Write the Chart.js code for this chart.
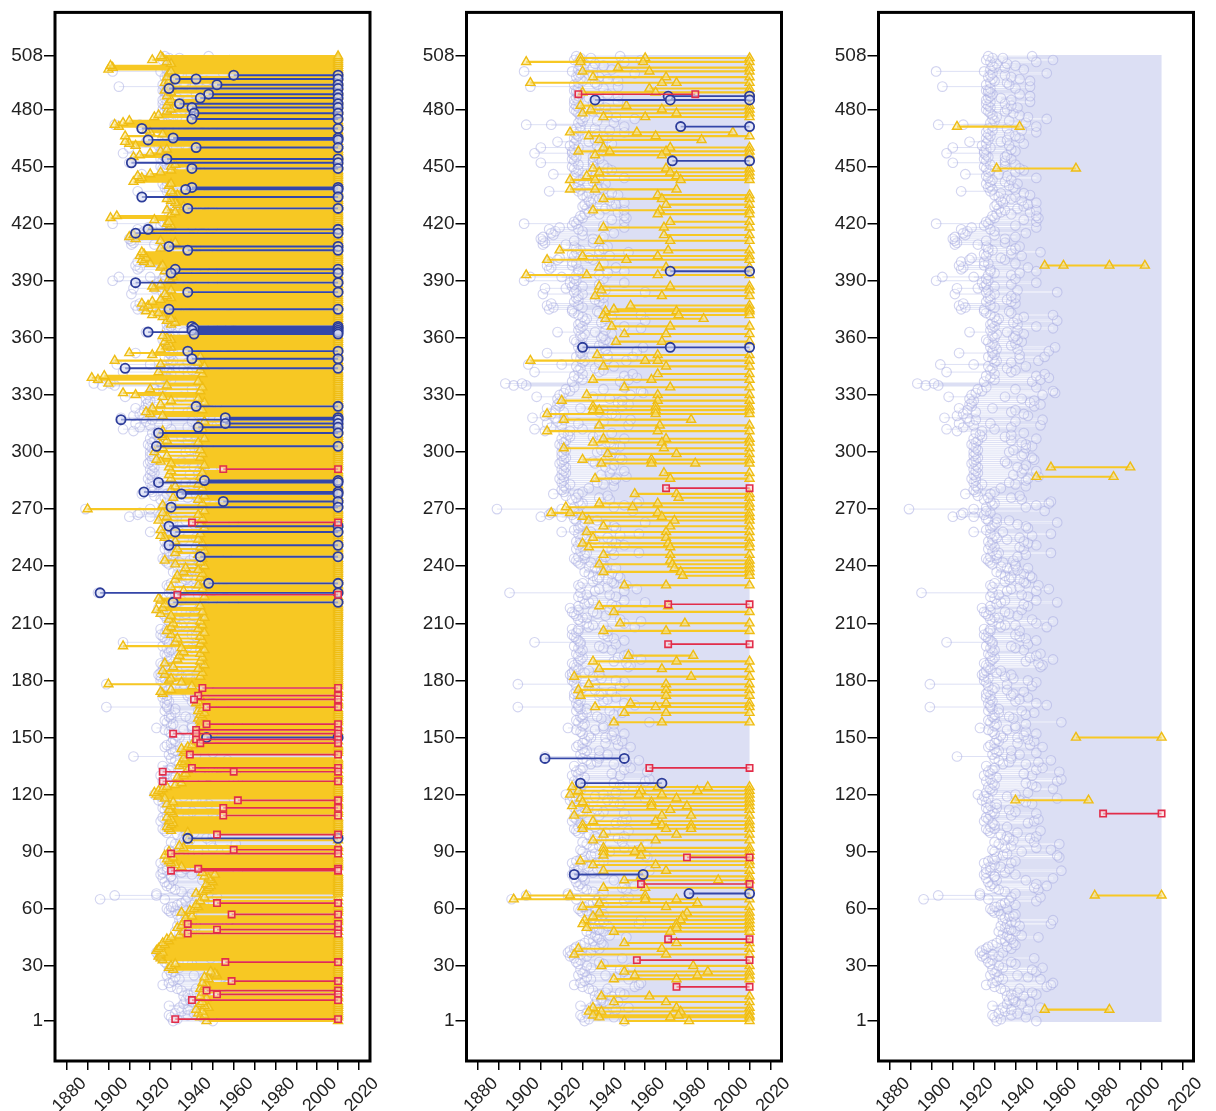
<!DOCTYPE html>
<html><head><meta charset="utf-8">
<script src="https://cdn.jsdelivr.net/npm/chart.js@4.4.1/dist/chart.umd.min.js"></script>
<style>
html,body{margin:0;padding:0;background:#fff;}
#wrap{position:relative;width:1216px;height:1111px;overflow:hidden;background:#fff;}
canvas{position:absolute;top:0;}
</style></head><body>
<div id="wrap">
<canvas id="c1" width="405" height="1111" style="left:0px"></canvas>
<canvas id="c2" width="405" height="1111" style="left:410px"></canvas>
<canvas id="c3" width="396" height="1111" style="left:820px"></canvas>
</div>
<script>
// ---------- tick labels ----------
const xTicks = [1880,1890,1900,1910,1920,1930,1940,1950,1960,1970,1980,1990,2000,2010,2020];
const yTicks = [1,30,60,90,120,150,180,210,240,270,300,330,360,390,420,450,480,508];
const lastYear = 2010;

// ---------- background (all panels): first observation year per row 1..508 ----------
const bgStart = [
1931,1933,1930,1929,1932,1935,1938,1934,1929,1936,
1940,1937,1939,1936,1938,1941,1935,1933,1930,1926,
1929,1931,1934,1932,1928,1930,1931,1929,1934,1932,
1928,1927,1929,1926,1924,1925,1923,1924,1926,1927,
1929,1931,1935,1933,1937,1936,1934,1932,1937,1935,
1933,1936,1938,1934,1935,1937,1933,1930,1929,1928,
1931,1933,1935,1937,1896,1938,1903,1923,1935,1932,
1930,1928,1929,1927,1931,1926,1930,1925,1926,1928,
1926,1928,1930,1925,1927,1929,1931,1934,1936,1930,
1929,1935,1938,1932,1930,1935,1937,1936,1933,1928,
1927,1926,1928,1930,1929,1925,1927,1926,1928,1930,
1929,1927,1926,1928,1931,1926,1924,1927,1925,1922,
1926,1929,1928,1927,1930,1929,1926,1928,1931,1925,
1928,1927,1929,1930,1926,1934,1937,1932,1930,1912,
1929,1931,1932,1930,1927,1928,1930,1932,1931,1934,
1933,1930,1929,1927,1923,1930,1931,1928,1927,1930,
1929,1930,1932,1927,1929,1899,1928,1927,1929,1928,
1926,1928,1926,1927,1929,1930,1927,1899,1926,1925,
1927,1925,1924,1925,1926,1928,1927,1926,1925,1928,
1929,1930,1928,1927,1929,1930,1928,1926,1929,1907,
1928,1927,1926,1925,1927,1928,1925,1933,1935,1932,
1929,1928,1930,1927,1926,1925,1928,1924,1928,1931,
1933,1935,1930,1928,1932,1895,1936,1938,1929,1928,
1930,1935,1937,1938,1935,1933,1931,1939,1936,1933,
1929,1928,1927,1926,1928,1931,1932,1929,1927,1930,
1928,1929,1927,1929,1931,1930,1928,1920,1926,1928,
1929,1930,1931,1927,1926,1910,1914,1915,1926,1889,
1926,1929,1930,1928,1925,1927,1922,1916,1921,1920,
1922,1921,1924,1920,1921,1919,1921,1920,1922,1921,
1920,1922,1921,1919,1920,1921,1922,1920,1921,1920,
1922,1921,1920,1919,1921,1922,1920,1924,1923,1921,
1912,1907,1915,1920,1913,1918,1921,1906,1912,1915,
1921,1917,1913,1919,1918,1919,1920,1918,1908,1919,
1921,1924,1922,1926,1897,1893,1925,1930,1928,1926,
1930,1907,1928,1929,1927,1904,1930,1931,1929,1927,
1930,1913,1929,1931,1928,1930,1929,1927,1926,1930,
1929,1931,1918,1928,1929,1930,1928,1929,1931,1932,
1930,1928,1926,1925,1914,1916,1913,1915,1926,1928,
1927,1928,1911,1926,1927,1912,1925,1926,1924,1902,
1926,1905,1927,1930,1928,1914,1915,1913,1927,1914,
1918,1919,1926,1925,1927,1929,1927,1926,1911,1912,
1911,1910,1911,1916,1915,1917,1914,1919,1925,1902,
1926,1928,1930,1929,1931,1933,1935,1932,1930,1931,
1934,1933,1935,1932,1930,1933,1914,1929,1927,1928,
1926,1928,1929,1927,1926,1916,1927,1928,1926,1925,
1928,1910,1926,1925,1927,1926,1907,1925,1926,1910,
1924,1926,1918,1927,1926,1928,1927,1926,1929,1927,
1929,1903,1928,1930,1929,1931,1929,1928,1927,1926,
1928,1927,1926,1928,1926,1927,1928,1929,1927,1926,
1928,1905,1926,1928,1930,1929,1927,1928,1929,1902,
1928,1930,1929,1931,1928,1926,1929,1927
];
// second background observation year per row (0 = none)
const bgMid = [
1950,0,1945,1938,1941,0,1946,1952,0,1943,
1947,1939,0,1944,1950,1948,0,1942,1955,1957,
1958,0,1952,1946,1941,0,1950,1948,1953,0,
1940,1938,0,1949,1932,1929,1934,0,1938,1936,
1940,1939,0,1938,1951,1943,0,1940,1938,0,
1942,1957,1940,1958,0,1939,1940,0,1932,1936,
1930,1940,0,1950,1927,1952,1923,1940,0,1951,
1949,1955,1950,0,1945,1958,1930,1940,1935,1962,
1937,1933,0,1938,1940,1930,1961,1960,0,1943,
1957,1950,0,1961,1949,1939,1947,1950,0,1941,
1952,1930,1936,0,1946,1949,1951,0,1938,1950,
1940,1937,1931,0,1948,1945,1942,1960,1936,1940,
1946,0,1958,1950,1948,1945,1960,1962,0,1948,
1944,1961,1950,1953,0,1945,1951,1957,1938,1938,
1942,1950,1938,0,1953,1947,1941,1949,1946,1941,
1944,1950,1945,1936,1940,1940,1945,1962,0,1939,
1937,1945,1949,1943,1932,1928,1955,1950,1940,1942,
1946,1938,1939,1944,1936,0,1948,1936,1950,1946,
1939,1935,1938,1931,1933,0,1952,1953,1951,1945,
1958,1947,1950,1952,0,1944,1940,1938,1946,1929,
1950,1945,1942,1940,0,1942,1928,1955,1940,1950,
1958,1948,1932,1941,1937,1935,1943,0,1946,1944,
1960,1950,0,1946,1943,1929,1950,1956,1942,1951,
1945,1944,1942,1948,1947,1944,0,1941,1946,1940,
1940,1934,1939,1931,1941,1945,1957,0,1944,1942,
1950,1946,1944,1936,1942,1948,1957,1934,0,1946,
1945,1941,1960,1937,1931,1920,1925,1928,1954,1920,
1945,1950,1956,1957,1943,1938,1942,1928,1930,0,
1933,1945,1940,1937,1945,1946,1951,1939,1943,1950,
1944,1941,1945,1936,1935,1949,1948,1943,1944,1937,
1939,1945,1948,1945,1943,1938,1950,1935,1938,1944,
1924,1930,1938,1952,1928,1940,1953,1917,1946,1944,
1938,1940,1929,1949,1952,1947,1949,1943,1935,1953,
1959,1958,1940,1950,1903,1901,1948,1952,1956,1950,
1954,1938,1940,1936,1945,1920,1938,1951,1942,1954,
1942,1929,1956,1941,1959,1938,1940,1943,1941,1939,
1940,1944,1936,1941,1958,1950,1941,1939,1960,1941,
1944,1958,1938,1937,1925,1930,1928,1940,1938,1936,
1940,1938,1930,1960,1941,1922,1930,1938,1950,1927,
1940,1920,1938,1942,1950,1928,1946,1925,1940,1925,
1935,1933,1943,1938,1952,1938,1940,1942,1922,1935,
1926,1935,1940,1930,1945,1930,1928,1950,1940,1927,
1950,1944,1951,1950,1938,1947,1950,1941,1944,1946,
1950,1943,1938,1940,1947,1944,1928,1940,1939,1937,
1941,1935,1938,1950,1936,1932,1940,1944,1942,1935,
1940,1935,1935,1938,1935,1936,1925,1940,1938,1928,
1937,1944,1933,1936,1942,1940,1937,1950,1943,1936,
1950,1915,1945,1937,1955,1946,1942,1939,1935,1936,
1941,1938,1935,1947,1938,1933,1947,1942,1928,1927,
1940,1947,1937,1936,1947,1942,1938,1935,1955,1925,
1944,1935,1940,1936,1950,1958,1934,1948
];

// ---------- panel 1 ----------
// yellow: start year per row (0 = none), running to lastYear
const p1YellowStart = [
1947,1946,1944,1946,1943,1945,1942,1948,1946,1944,
1945,1943,1947,1944,1946,1945,1948,1944,1946,1947,
1945,1943,1948,1946,1952,1951,1949,1931,1929,1930,
1932,1928,1926,1925,1924,1925,1926,1923,1924,1925,
1927,1926,1929,1928,1930,1934,1938,1936,1939,1933,
1935,1937,1936,1938,1937,1940,1938,1935,1939,1941,
1943,1942,1940,1944,0,1946,0,1942,1945,1947,
1948,1949,1947,1950,1949,1948,1946,1951,1945,1944,
1940,1935,1932,1930,1929,1928,1931,1927,1930,1929,
1933,1936,1934,0,0,1938,1937,0,1941,1938,
1930,1929,1928,1930,1931,1929,1930,1928,1929,1931,
1930,1929,1932,1930,1928,1931,1929,1927,1924,1923,
1922,1924,1926,1928,1932,1935,1930,1934,1933,1936,
1937,1935,1938,1936,1934,1936,1935,1937,1936,0,
1935,1936,1937,1935,1938,1940,1939,1942,1940,1941,
1943,1944,1942,1945,1943,1944,1946,1945,1944,1943,
1945,1944,1946,1943,1945,0,1944,1942,1943,1945,
1944,1943,1926,1925,1930,1943,1940,1900,1935,1929,
1930,1944,1927,1945,1926,1943,1931,1946,1927,1944,
1933,1945,1934,1944,1936,1946,1935,1907,1944,1932,
1945,1933,1944,1930,1946,1928,1943,1930,1945,1931,
1944,1929,1946,1930,1925,1945,1923,1926,1944,1927,
1945,1925,1924,1946,1931,1944,1936,1945,1930,1943,
1929,1946,1932,1944,1933,1945,1936,1943,1937,1946,
1932,1944,1927,1945,1928,1943,1932,1946,1933,1944,
1929,1945,1932,1943,1927,1925,1944,1926,1925,1946,
1929,1944,1926,1924,1945,1928,1943,1926,1946,1890,
1944,1926,1945,1932,1943,1931,1946,1929,1944,1930,
1945,1932,1943,1931,1946,1930,1944,1929,1945,1930,
1943,1929,1946,1930,1925,1923,1944,1928,1945,1922,
1944,1926,1945,1925,1943,1928,1946,1926,1925,1944,
1926,1945,1929,1943,1930,1946,1929,1944,1926,1920,
1918,1945,1921,1944,1925,1946,1930,1943,1926,1913,
1907,1944,1920,1945,1928,1900,1943,1895,1892,1898,
1945,1924,1944,1930,1946,1925,1943,1903,1925,1944,
1921,1910,1918,1925,1930,1928,1929,1927,1930,1928,
1926,1929,1930,1928,1926,1925,1930,1932,1928,1930,
1926,1921,1924,1918,1920,1917,1919,1916,1921,1925,
1930,1928,1927,1924,1930,1922,1921,1925,1928,1930,
1929,1931,1930,1928,1927,1930,1925,1926,1920,1917,
1916,1918,1915,1917,1916,1927,1925,1918,1930,1932,
1925,1913,1910,1912,1917,1920,1925,1929,1930,1928,
1929,1922,1901,1904,1930,1932,1928,1930,1936,1933,
1932,1930,1928,1935,1933,1931,1930,1928,1930,1929,
1930,1912,1915,1916,1914,1920,1925,1930,1928,1930,
1932,1929,1930,1927,1912,1915,1920,1925,1928,1927,
1913,1910,1908,1925,1911,1908,1926,1920,1918,1906,
1905,1903,1907,1910,1912,1922,1924,1926,1928,1930,
1926,1928,1927,1929,1930,1926,1928,1929,1930,1927,
1929,1930,1928,1927,1929,1930,1928,1926,1929,1930,
1900,1902,1901,1930,1928,1921,1926,1925
];
// [row, year, year, ...]
const p1Blue = [
[498,1960,2010],[496,1932,1942,2010],[493,1952,2010],[491,1929,2010],[488,1948,2010],[486,1944,2010],
[483,1934,2010],[481,1940,2010],[478,1941,2010],[475,1940,2010],[470,1916,2010],[465,1931,2010],
[464,1919,2010],[460,1942,2010],[454,1928,2010],[452,1911,2010],[449,1940,2010],[439,1940,2010],
[438,1937,2010],[434,1916,2010],[428,1938,2010],[417,1919,2010],[415,1913,2010],[408,1929,2010],
[406,1938,2010],[396,1932,2010],[394,1930,2010],[389,1913,2010],[384,1938,2010],[375,1929,2010],
[366,1940,2010],[365,1941,2010],[364,1940,2010],[363,1919,2010],[362,1941,2010],[353,1938,2010],
[349,1940,2010],[344,1908,2010],[324,1942,2010],[318,1956,2010],[317,1906,2010],[315,1956,2010],
[313,1943,2010],[310,1924,2010],[303,1923,2010],[285,1946,2010],[284,1924,2010],[279,1917,2010],
[278,1935,2010],[274,1955,2010],[271,1930,2010],[261,1929,2010],[258,1932,2010],[251,1929,2010],
[245,1944,2010],[231,1948,2010],[226,1896,2010],[221,1931,2010],[150,1947,2010],[97,1938,2010]
];
const p1Red = [
[291,1955,2010],[263,1940,2010],[225,1933,2010],[176,1945,2010],[172,1943,2010],[170,1941,2010],
[166,1947,2010],[157,1947,2010],[154,1942,2010],[152,1931,1942,2010],[149,1942,2010],[147,1944,2010],
[141,1939,2010],[134,1940,2010],[132,1926,1960,2010],[127,1926,2010],[117,1962,2010],[113,1955,2010],
[109,1955,2010],[99,1952,2010],[91,1960,2010],[89,1930,2010],[81,1943,2010],[80,1930,2010],
[63,1952,2010],[57,1959,2010],[52,1938,2010],[49,1952,2010],[47,1938,2010],[32,1956,2010],
[22,1959,2010],[17,1947,2010],[15,1952,2010],[12,1940,2010],[2,1932,2010]
];

// ---------- panel 2 ----------
const p2Yellow = [
[507,1929,1960,2010],[505,1903,1929,1959,2010],[502,1947,2010],[500,1930,1962,2010],[497,1935,1970,2010],
[494,1905,1968,1975,2010],[491,1962,2010],[489,1930,1965,2010],[482,1929,1951,2010],[480,1934,1968,2010],
[478,1930,1975,2010],[476,1940,1960,2010],[468,1924,1956,2002],[466,1933,1965,2010],[464,1938,1987],
[460,1940,1972,2010],[458,1928,1943,1970,2010],[456,1936,1968,2010],[449,1935,1970,2010],[447,1938,1972,2010],
[445,1932,1975,2010],[443,1924,1936,1977,2010],[438,1924,1936,1975],[435,1966,2010],[433,1940,1968,2010],
[430,1970,2010],[427,1935,1967,2010],[425,1966,2010],[421,1972,2010],[418,1940,1969,2010],[414,1969,2010],
[411,1938,1972,2010],[406,1919,1971,2010],[403,1930,1966,2010],[401,1913,1951,2010],[397,1938,1970,2010],
[393,1903,1932,1966,2010],[387,1938,1972,2010],[385,1939,2010],[382,1936,1968,2010],[377,1953,2010],
[375,1945,2010],[374,1941,1975,2010],[372,1940,1976,2010],[370,1941,1988],[366,1944,1972,2010],
[362,1950,1970,2010],[358,1946,1968,2010],[351,1937,1966,2010],[348,1905,1960,1966,2010],[345,1940,1970,2010],
[341,1966,2010],[338,1935,1963,2010],[334,1950,1972,2010],[330,1932,1966,2010],[327,1920,1966,2010],
[324,1935,1965,2010],[322,1935,1938,1965,2010],[320,1913,1965,2010],[317,1921,1982],[314,1938,1967,2010],
[311,1913,1966,2010],[307,1940,1970,2010],[305,1935,1968,2010],[302,1921,1969,2010],[299,1942,1975,2010],
[296,1930,1963,2010],[294,1939,1963,1984,2010],[289,1969,2010],[286,1936,1972,2010],[278,1955,1975,2010],
[276,1976,2010],[273,1938,1966,2010],[271,1922,1954,2010],[268,1915,1924,1966,2010],[266,1930,1968,2010],
[264,1933,1974,2010],[261,1940,1972,2010],[258,1932,1970,2010],[255,1935,1970,2010],[252,1930,1971,2010],
[250,1933,1972,2010],[246,1940,1972,2010],[243,1972,2010],[241,1938,1973,2010],[239,1974,2010],
[237,1940,1977,2010],[235,1978,2010],[230,1950,1970,2010],[219,1938,1971],[216,1945,2010],
[210,1948,1979,2010],[206,1940,1970,2010],[193,1952,1983],[190,1935,1975,2010],[186,1938,1968,2010],
[182,1926,1982,2010],[178,1933,1970,2010],[175,1928,1970,2010],[172,1929,1970,2010],[168,1953,1970,2010],
[166,1936,1965,2010],[163,1950,1970,2010],[158,1945,1968,2010],[124,1925,1966,1990,2010],[122,1928,1958,1985,2010],
[120,1924,1957,1968,2010],[118,1929,1975,2010],[116,1930,1963,2010],[114,1925,1963,1980,2010],[112,1932,1972,2010],
[109,1926,1968,1982,2010],[106,1935,1965,2010],[104,1930,1968,1982,2010],[102,1930,1970,1982,2010],[99,1940,1975,2010],
[96,1935,1965,2010],[92,1940,1958,2010],[90,1940,1955,2010],[88,1940,1958,2010],[85,1929,2010],
[83,1935,1965,2010],[80,1940,1970,2010],[77,1958,2010],[75,1950,1995,2010],[71,1940,1960,2010],
[67,1903,1924,1960],[65,1897,1960,1975,2010],[63,1938,1985],[61,1930,1970,2010],[58,1938,1980,2010],
[56,1935,1978,2010],[54,1931,1977,2010],[52,1930,1975,2010],[50,1932,1975,2010],[48,1945,1972,2010],
[42,1950,1975,2010],[39,1928,1968,2010],[36,1926,1970,2010],[30,1939,1983,2010],[27,1950,1990,2010],
[25,1955,1985,2010],[23,1945,1975,2010],[14,1939,1962,2010],[11,1945,1970,2010],[8,1935,1975,2010],
[6,1933,1939,1977,2010],[4,1935,1976,2010],[3,1938,1972,2010],[1,1950,1981,2010]
];
const p2Blue = [
[487,1971,2010],[485,1936,1972,2010],[471,1977,2010],[453,1973,2010],[395,1972,2010],
[355,1930,1972,2010],[139,1912,1950],[126,1929,1968],[78,1926,1959],[68,1981,2010]
];
const p2Red = [
[488,1928,1984],[281,1970,2010],[220,1971,2010],[199,1971,2010],[134,1962,2010],
[87,1980,2010],[73,1958,2010],[44,1971,2010],[33,1956,2010],[19,1975,2010]
];

// ---------- panel 3 ----------
const p3Yellow = [
[471,1912,1942],[449,1931,1969],[398,1954,1963,1985,2002],[292,1957,1995],[287,1950,1987],
[150,1969,2010],[117,1940,1975],[67,1978,2010],[7,1954,1985]
];
const p3Blue = [];
const p3Red = [[110,1982,2010]];

// ---------- helpers ----------
function toPoints(entries){
  const d=[];
  for(const e of entries){
    for(let i=1;i<e.length;i++) d.push({x:e[i],y:e[0]});
    d.push({x:null,y:null});
  }
  return d;
}
function bgThinPts(){
  const d=[];
  for(let i=0;i<bgStart.length;i++){
    if(bgMid[i]>0 && bgMid[i]>bgStart[i]){ d.push({x:bgStart[i],y:i+1},{x:bgMid[i],y:i+1},{x:null,y:null}); }
  }
  return d;
}
function bgThickPts(){
  const d=[];
  for(let i=0;i<bgStart.length;i++){
    const s=(bgMid[i]>bgStart[i])?bgMid[i]:bgStart[i];
    d.push({x:s,y:i+1},{x:lastYear,y:i+1},{x:null,y:null});
  }
  return d;
}
function bgDotPts(){
  const d=[];
  for(let i=0;i<bgStart.length;i++){
    d.push({x:bgStart[i],y:i+1});
    if(bgMid[i]>0) d.push({x:bgMid[i],y:i+1});
  }
  return d;
}
function yellowFromStarts(starts, excl){
  const ents=[];
  for(let i=0;i<starts.length;i++){
    if(starts[i]>0 && !excl.has(i+1)) ents.push([i+1,starts[i],lastYear]);
  }
  return ents;
}

const YEL='#f7c823', BLU='#3446a8', RED='#e22d4a';
function ds(data,opt){
  return Object.assign({type:'line',data,showLine:true,spanGaps:false,tension:0,fill:false,
    pointHoverRadius:0,pointHitRadius:0},opt);
}
function makeDatasets(yEnt,bEnt,rEnt){
  return [
    ds(toPoints(rEnt),{borderColor:RED,borderWidth:1.7,pointStyle:'rect',pointRadius:4.5,
      pointBorderColor:RED,pointBackgroundColor:'rgba(255,215,215,0.55)',pointBorderWidth:1.6}),
    ds(toPoints(bEnt),{borderColor:BLU,borderWidth:1.9,pointStyle:'circle',pointRadius:4.6,
      pointBorderColor:'#2c3c9a',pointBackgroundColor:'rgba(215,220,245,0.6)',pointBorderWidth:1.8}),
    ds(toPoints(yEnt),{borderColor:YEL,borderWidth:2.1,pointStyle:'triangle',pointRadius:5.2,
      pointBorderColor:'#efbd14',pointBackgroundColor:'rgba(250,228,130,0.55)',pointBorderWidth:1.4}),
    ds(bgDotPts(),{showLine:false,borderWidth:0,pointStyle:'circle',pointRadius:4.8,
      pointBorderColor:'rgba(165,170,225,0.5)',pointBackgroundColor:'rgba(255,255,255,0.15)',pointBorderWidth:1.1}),
    ds(bgThinPts(),{borderColor:'rgba(190,195,235,0.5)',borderWidth:1,pointRadius:0}),
    ds(bgThickPts(),{borderColor:'rgba(214,217,242,0.85)',borderWidth:2.1,pointRadius:0})
  ];
}

const framePlugin={id:'frame',afterDraw(chart){
  const a=chart.chartArea,c=chart.ctx;
  c.save();c.lineWidth=3;c.strokeStyle='#000';
  c.strokeRect(a.left,a.top,a.right-a.left,a.bottom-a.top);c.restore();
}};

function makeChart(id,yw,pr,datasets){
  new Chart(document.getElementById(id),{
    type:'line',
    data:{datasets},
    options:{
      responsive:false,animation:false,events:[],
      layout:{padding:{top:6,right:pr,left:0,bottom:0}},
      plugins:{legend:{display:false},tooltip:{enabled:false}},
      scales:{
        x:{type:'linear',min:1874.4,max:2025.3,
          afterFit:s=>{s.height=50;},
          afterBuildTicks:s=>{s.ticks=xTicks.map(v=>({value:v}));},
          ticks:{autoSkip:false,minRotation:45,maxRotation:45,labelOffset:17,padding:3,
            color:'#222',font:{family:'Liberation Sans, Arial, sans-serif',size:18},
            callback:v=>(v%20===0?String(v):'')},
          grid:{drawOnChartArea:false,drawTicks:true,tickLength:9,color:'#000',lineWidth:1.5},
          border:{display:false}},
        y:{type:'linear',min:-20,max:531,
          afterFit:s=>{s.width=yw;},
          afterBuildTicks:s=>{s.ticks=yTicks.map(v=>({value:v}));},
          ticks:{autoSkip:false,padding:1,color:'#222',
            font:{family:'Liberation Sans, Arial, sans-serif',size:19},
            callback:v=>String(v)},
          grid:{drawOnChartArea:false,drawTicks:true,tickLength:11,color:'#000',lineWidth:1.5},
          border:{display:false}}
      }
    },
    plugins:[framePlugin]
  });
}

const p1Excl=new Set([...p1Blue,...p1Red].map(e=>e[0]));
makeChart('c1',55,35,makeDatasets(yellowFromStarts(p1YellowStart,p1Excl),p1Blue,p1Red));
makeChart('c2',56.5,33.5,makeDatasets(p2Yellow,p2Blue,p2Red));
makeChart('c3',58.5,22.5,makeDatasets(p3Yellow,p3Blue,p3Red));
</script>
</body></html>
